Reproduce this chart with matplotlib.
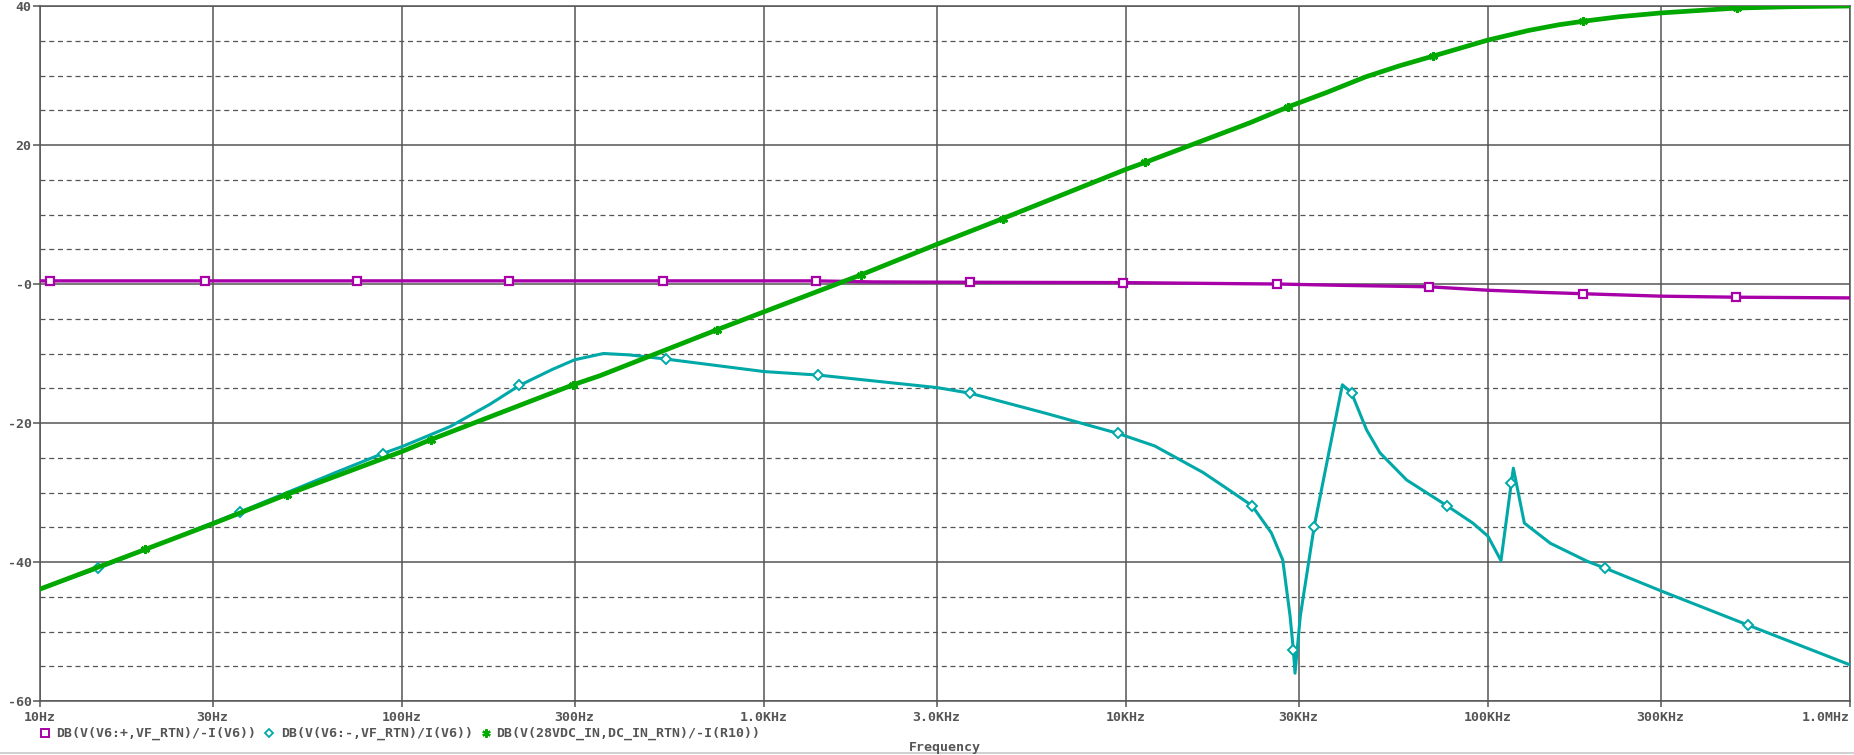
import numpy as np
import matplotlib.pyplot as plt
from matplotlib.lines import Line2D
from matplotlib.ticker import FixedLocator, NullLocator

# DB(V(V6:+,VF_RTN)/-I(V6))  -- magenta
f_plus = [10, 10.66, 28.5, 75, 198, 526, 1393, 2000, 3698, 9816, 20000, 26100,
          40000, 68900, 100000, 140000, 183000, 300000, 484000, 1000000]
db_plus = [0.45, 0.45, 0.45, 0.45, 0.45, 0.45, 0.45, 0.3, 0.25, 0.2, 0.05, 0.0,
           -0.2, -0.4, -0.9, -1.2, -1.4, -1.75, -1.9, -2.0]
mk_plus = [10.66, 28.5, 75, 198, 526, 1393, 3698, 9816, 26100, 68900, 183000, 484000]

# DB(V(V6:-,VF_RTN)/I(V6))  -- cyan
f_minus = [10, 14.5, 35.7, 65, 88.4, 100, 136, 175, 211, 260, 300, 360, 425, 536,
           1000, 1410, 3000, 3700, 6000, 9500, 12000, 14100, 16300, 18600, 22300,
           25200, 27100, 28400, 29000, 29300, 30300, 33100, 36100, 39600, 42000,
           46200, 50300, 59600, 77000, 90800, 100000, 108600, 116000, 117500,
           126000, 148600, 188000, 211000, 302000, 524000, 1000000]
db_minus = [-43.9, -40.9, -32.8, -27.2, -24.4, -23.4, -20.5, -17.3, -14.6, -12.3,
            -10.9, -10.0, -10.2, -10.8, -12.6, -13.1, -14.9, -15.7, -18.6, -21.5,
            -23.3, -25.3, -27.1, -29.1, -31.9, -35.8, -39.7, -47.8, -52.7, -56.0,
            -47.8, -34.9, -25.0, -14.5, -15.7, -21.0, -24.3, -28.2, -31.9, -34.4,
            -36.3, -39.8, -28.6, -26.5, -34.4, -37.3, -39.9, -40.9, -44.2, -49.1,
            -54.8]
mk_minus = [14.5, 35.7, 88.4, 211, 536, 1410, 3700, 9500, 22300, 29000, 33100,
            42000, 77000, 116000, 211000, 524000]

# DB(V(28VDC_IN,DC_IN_RTN)/-I(R10))  -- green
f_dc = [10, 19.5, 30, 48, 100, 120, 297, 352, 740, 1000, 1850, 3000, 4560, 10000,
        11300, 22000, 28100, 36000, 45900, 57000, 70600, 100000, 130000, 157000,
        183000, 230000, 300000, 486000, 686000, 1000000]
db_dc = [-43.9, -38.2, -34.5, -30.3, -24.1, -22.4, -14.5, -13.2, -6.6, -4.0, 1.3,
         5.7, 9.4, 16.5, 17.5, 23.2, 25.5, 27.6, 29.8, 31.4, 32.8, 35.1, 36.5,
         37.3, 37.8, 38.45, 39.0, 39.7, 39.9, 40.0]
mk_dc = [19.5, 48, 120, 297, 740, 1850, 4560, 11300, 28100, 70600, 183000, 486000]

x_ticks = [10, 30, 100, 300, 1e3, 3e3, 1e4, 3e4, 1e5, 3e5, 1e6]
x_labels = ['10Hz', '30Hz', '100Hz', '300Hz', '1.0KHz', '3.0KHz', '10KHz',
            '30KHz', '100KHz', '300KHz', '1.0MHz']
y_ticks = [-60, -40, -20, 0, 20, 40]
y_labels = ['-60', '-40', '-20', '-0', '20', '40']

labels = ['DB(V(V6:+,VF_RTN)/-I(V6))', 'DB(V(V6:-,VF_RTN)/I(V6))',
          'DB(V(28VDC_IN,DC_IN_RTN)/-I(R10))']

magenta = '#a800a8'
cyan = '#00a8a8'
green = '#00a800'
gray = '#555555'
font = dict(family='DejaVu Sans Mono', weight='bold', size=9.5, color=gray)

W, H = 1854, 755
fig = plt.figure(figsize=(W / 100, H / 100), dpi=100)
ax = fig.add_axes([40 / W, 1 - 701 / H, 1810 / W, 695 / H])

def idx(freqs, marks):
    return [freqs.index(m) for m in marks]

ax.semilogx(f_plus, db_plus, color=magenta, lw=2.4, marker='s', ms=5.3,
            mfc='white', mec=magenta, mew=1.6, markevery=idx(f_plus, mk_plus), zorder=3)
ax.semilogx(f_minus, db_minus, color=cyan, lw=2.2, marker='D', ms=4.6,
            mfc='white', mec=cyan, mew=1.4, markevery=idx(f_minus, mk_minus), zorder=4)
ax.semilogx(f_dc, db_dc, color=green, lw=3.4, marker=(6, 2, 0), ms=6.5,
            mec=green, mew=2.0, markevery=idx(f_dc, mk_dc), zorder=5)

ax.set_xlim(10, 1e6)
ax.set_ylim(-60, 40)
ax.xaxis.set_major_locator(FixedLocator(x_ticks))
ax.xaxis.set_minor_locator(NullLocator())
ax.set_xticklabels(x_labels, fontdict=font)
ax.set_yticks(y_ticks)
ax.set_yticklabels(y_labels, fontdict=font)
ax.get_xticklabels()[-1].set_horizontalalignment('right')

for yv in range(-55, 40, 5):
    if yv % 20 != 0:
        ax.axhline(yv, color=gray, lw=0.9, ls=(0, (4, 3)), zorder=1)
ax.grid(True, which='major', color=gray, lw=1.1, zorder=1)
ax.set_axisbelow(True)

for s in ax.spines.values():
    s.set_color(gray)
    s.set_linewidth(1.1)
ax.tick_params(axis='x', length=4, width=1.1, color=gray, pad=3)
ax.tick_params(axis='y', length=5, width=1.1, color=gray, pad=1)

# legend row under the axis
ly = 1 - 733 / H
leg_marks = [dict(marker='s', ms=5.3, mfc='white', mec=magenta, mew=1.4),
             dict(marker='D', ms=4.4, mfc='white', mec=cyan, mew=1.3),
             dict(marker=(6, 2, 0), ms=6, mec=green, mew=1.6)]
mark_x = [44.5, 269, 485.5]
text_x = [56, 281, 496]
for lab, mk, mx, tx in zip(labels, leg_marks, mark_x, text_x):
    fig.add_artist(Line2D([mx / W], [ly], transform=fig.transFigure, ls='none', **mk))
    fig.text(tx / W, ly, lab, va='center', ha='left', **font)

fig.text((40 + 1850) / 2 / W, 1 - 747 / H, 'Frequency', ha='center', va='center', **font)
fig.add_artist(Line2D([0, 1], [1 - 752.5 / H] * 2, transform=fig.transFigure,
                      color='#c8c8c8', lw=1.2))

fig.savefig('out.png', dpi=100)
